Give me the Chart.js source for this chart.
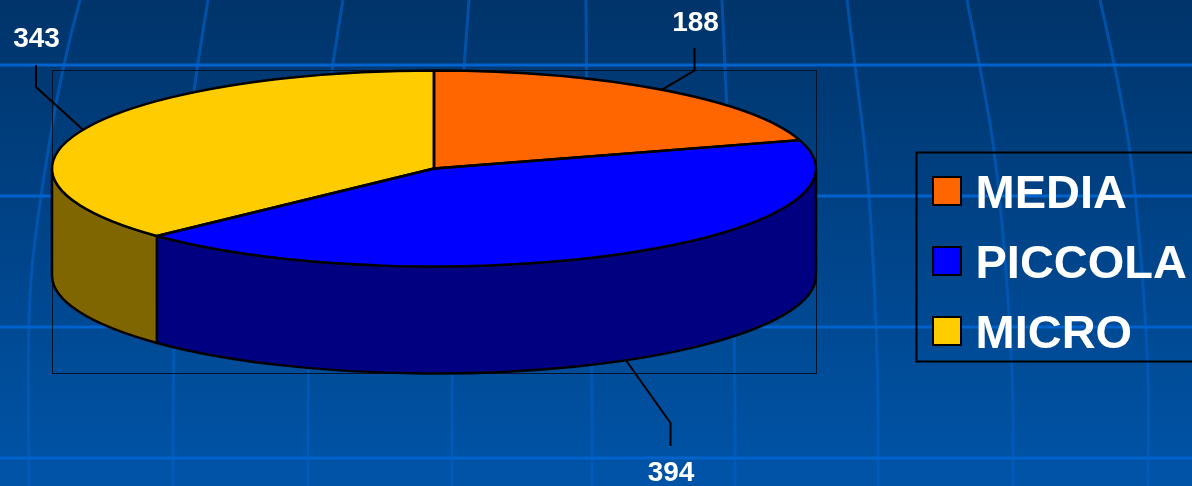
<!DOCTYPE html>
<html>
<head>
<meta charset="utf-8">
<style>html,body{margin:0;padding:0;background:#00447f;overflow:hidden}canvas{display:block}</style>
<script src="https://cdn.jsdelivr.net/npm/chart.js@4"></script>
</head>
<body>
<canvas id="c" width="1192" height="486"></canvas>
<script>
const categories = ['MEDIA', 'PICCOLA', 'MICRO'];
const values = [188, 394, 343];
const topColors = ['#FF6600', '#0000FF', '#FFCC00'];
const sideColors = ['#803300', '#000080', '#806600'];

// Pie geometry (a tilted, extruded disc)
const CX = 434, CY = 168.5, RX = 382, RY = 98, DEPTH = 107;
const FONT = "'Liberation Sans', Arial, sans-serif";

// Leader lines and value labels: elbow, end of line, label centre
const leaders = [
  { elbow: [694.5, 70.5], end: [694.5, 48], label: [695.5, 23.5] },
  { elbow: [670.5, 423], end: [670.5, 446], label: [671, 473.5] },
  { elbow: [36, 87], end: [36, 65], label: [36.5, 39.5] }
];

// Decorative background grid
const hLines = [65, 196, 327, 458];
const vLines = [
  [[80,0],[62,65],[40,200],[30,280],[28,360],[29,486]],
  [[208,0],[197,65],[180,200],[173,360],[173,486]],
  [[343,0],[332,65],[315,200],[308,360],[308,486]],
  [[469,0],[464,65],[455,200],[452,360],[452,486]],
  [[586,0],[586,65],[590,200],[592,360],[592,486]],
  [[722,0],[725,65],[731,200],[735,360],[735,486]],
  [[847,0],[855,65],[869,180],[878,360],[878,486]],
  [[967,0],[980,65],[998,170],[1013,360],[1013,486]],
  [[1100,0],[1115,65],[1134,170],[1149,360],[1148,486]]
];

function ellipsePath(ctx, y, a0, a1, ccw) {
  ctx.ellipse(CX, y, RX, RY, 0, a0, a1, !!ccw);
}

function swatch(color) {
  const c = document.createElement('canvas');
  c.width = 30; c.height = 38;
  const x = c.getContext('2d');
  x.fillStyle = color;
  x.fillRect(0, 0, 30, 30);
  x.strokeStyle = '#000';
  x.lineWidth = 2;
  x.strokeRect(1, 1, 28, 28);
  return c;
}

const piePlugin = {
  id: 'tiltedPie',
  beforeDraw(chart) {
    const ctx = chart.ctx, W = chart.width, H = chart.height;
    ctx.save();
    const g = ctx.createLinearGradient(0, 0, 0, H);
    g.addColorStop(0, '#00346a');
    g.addColorStop(1, '#0054a8');
    ctx.fillStyle = g;
    ctx.fillRect(0, 0, W, H);
    const vg = ctx.createLinearGradient(0, 0, 0, H);
    vg.addColorStop(0, '#0050a6');
    vg.addColorStop(1, '#005ab8');
    ctx.strokeStyle = vg;
    ctx.lineWidth = 3;
    vLines.forEach(pts => {
      ctx.beginPath();
      ctx.moveTo(pts[0][0], pts[0][1]);
      for (let i = 1; i < pts.length - 1; i++) {
        const mx = (pts[i][0] + pts[i + 1][0]) / 2, my = (pts[i][1] + pts[i + 1][1]) / 2;
        ctx.quadraticCurveTo(pts[i][0], pts[i][1], mx, my);
      }
      const last = pts[pts.length - 1];
      ctx.lineTo(last[0], last[1]);
      ctx.stroke();
    });
    ctx.strokeStyle = '#0062cc';
    ctx.lineWidth = 3;
    hLines.forEach(y => {
      ctx.beginPath(); ctx.moveTo(0, y); ctx.lineTo(W, y); ctx.stroke();
    });
    // legend frame
    ctx.strokeStyle = '#000';
    ctx.lineWidth = 2;
    ctx.strokeRect(916.5, 152.5, 290, 209);
    // plot frame
    ctx.lineWidth = 1;
    ctx.strokeStyle = '#04122a';
    ctx.strokeRect(52.5, 70.5, 764, 303);
    ctx.restore();
  },
  beforeDatasetDraw(chart) {
    const ctx = chart.ctx;
    const arcs = chart.getDatasetMeta(0).data;
    // extruded walls for the visible (front) half
    ctx.save();
    ctx.lineWidth = 2.5;
    ctx.strokeStyle = '#000';
    ctx.lineJoin = 'round';
    arcs.forEach((arc, i) => {
      const a0 = Math.max(arc.startAngle, 0), a1 = Math.min(arc.endAngle, Math.PI);
      if (a1 <= a0) return;
      ctx.beginPath();
      ellipsePath(ctx, CY, a0, a1);
      ellipsePath(ctx, CY + DEPTH, a1, a0, true);
      ctx.closePath();
      ctx.fillStyle = sideColors[i];
      ctx.fill();
      ctx.stroke();
    });
    ctx.restore();
    // squash the library's circular arcs into the tilted ellipse
    ctx.save();
    const a = arcs[0];
    ctx.translate(CX, CY);
    ctx.scale(1, RY / RX);
    ctx.translate(-a.x, -a.y);
  },
  afterDatasetDraw(chart) {
    const ctx = chart.ctx;
    ctx.restore();
    const arcs = chart.getDatasetMeta(0).data;
    ctx.save();
    ctx.lineWidth = 2.5;
    ctx.strokeStyle = '#000';
    ctx.lineJoin = 'round';
    arcs.forEach(arc => {
      ctx.beginPath();
      ctx.moveTo(CX, CY);
      ellipsePath(ctx, CY, arc.startAngle, arc.endAngle);
      ctx.closePath();
      ctx.stroke();
    });
    ctx.restore();
  },
  afterDatasetsDraw(chart) {
    const ctx = chart.ctx;
    const arcs = chart.getDatasetMeta(0).data;
    ctx.save();
    ctx.lineWidth = 2;
    ctx.strokeStyle = '#000';
    ctx.fillStyle = '#fff';
    ctx.font = 'bold 28px ' + FONT;
    ctx.textAlign = 'center';
    ctx.textBaseline = 'middle';
    arcs.forEach((arc, i) => {
      const mid = (arc.startAngle + arc.endAngle) / 2;
      const ax = CX + RX * Math.cos(mid);
      let ay = CY + RY * Math.sin(mid);
      if (Math.sin(mid) > 0) ay += DEPTH;
      const l = leaders[i];
      ctx.beginPath();
      ctx.moveTo(ax, ay);
      ctx.lineTo(l.elbow[0], l.elbow[1]);
      ctx.lineTo(l.end[0], l.end[1]);
      ctx.stroke();
      ctx.fillText(String(values[i]), l.label[0], l.label[1]);
    });
    ctx.restore();
  }
};

new Chart(document.getElementById('c'), {
  type: 'pie',
  data: {
    labels: categories,
    datasets: [{
      data: values,
      backgroundColor: topColors,
      borderWidth: 0,
      radius: RX,
      clip: false
    }]
  },
  plugins: [piePlugin],
  options: {
    responsive: false,
    animation: false,
    layout: { padding: { top: 148.5, right: -5, left: 0, bottom: 0 } },
    plugins: {
      tooltip: { enabled: false },
      legend: {
        display: true,
        position: 'right',
        align: 'start',
        labels: {
          usePointStyle: true,
          pointStyle: 'rect',
          boxWidth: 10,
          boxHeight: 30,
          padding: 23,
          color: '#ffffff',
          font: { family: FONT, size: 47, weight: 'bold' },
          generateLabels(chart) {
            const items = Chart.overrides.pie.plugins.legend.labels.generateLabels(chart);
            items.forEach((it, i) => { it.pointStyle = swatch(topColors[i]); });
            return items;
          }
        }
      }
    }
  }
});
</script>
</body>
</html>
